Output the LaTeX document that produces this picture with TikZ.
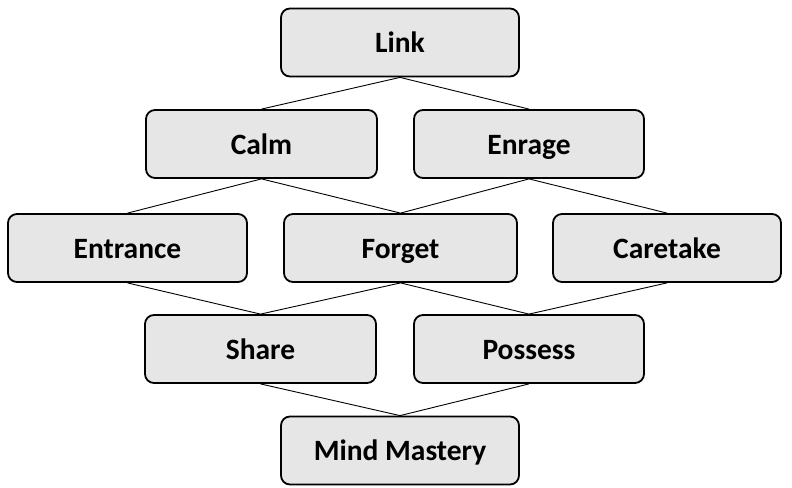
\documentclass[tikz,border=0pt]{standalone}
\usepackage{fontspec}
\setmainfont{Carlito}
\begin{document}
\begin{tikzpicture}[x=1pt,y=-1pt,
  skill/.style={draw=black, line width=1.8pt, fill=boxgray, rounded corners=9pt,
    minimum width=#1, minimum height=68pt, inner sep=0pt,
    text height=20.5pt, text depth=0pt,
    font=\fontsize{29.5}{32}\selectfont\bfseries},
  link/.style={draw=black, line width=0.9pt}]
\definecolor{boxgray}{HTML}{E6E6E6}
\useasboundingbox (0,0) rectangle (792,487);
\fill[white] (0,0) rectangle (792,487);
% nodes by tier
\node[skill=238pt] (link) at (400,42.5) {Link};
\node[skill=231pt] (calm) at (261.5,144) {Calm};
\node[skill=230pt] (enrage) at (529,144) {Enrage};
\node[skill=239pt] (entrance) at (127.5,248) {Entrance};
\node[skill=233pt] (forget) at (400.5,248) {Forget};
\node[skill=228pt] (caretake) at (667,248) {Caretake};
\node[skill=231pt] (share) at (260.5,349) {Share};
\node[skill=230pt] (possess) at (529,349) {Possess};
\node[skill=238pt] (mind) at (400,450.5) {Mind Mastery};
% connectors
\draw[link] (link.south) -- (calm.north);
\draw[link] (link.south) -- (enrage.north);
\draw[link] (calm.south) -- (entrance.north);
\draw[link] (calm.south) -- (forget.north);
\draw[link] (enrage.south) -- (forget.north);
\draw[link] (enrage.south) -- (caretake.north);
\draw[link] (entrance.south) -- (share.north);
\draw[link] (forget.south) -- (share.north);
\draw[link] (forget.south) -- (possess.north);
\draw[link] (caretake.south) -- (possess.north);
\draw[link] (share.south) -- (mind.north);
\draw[link] (possess.south) -- (mind.north);
\end{tikzpicture}
\end{document}
